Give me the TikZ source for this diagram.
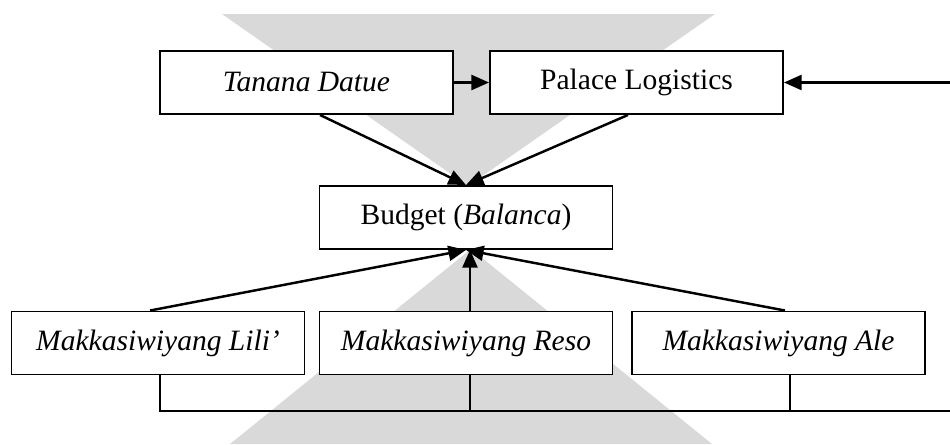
\documentclass[tikz,border=0pt]{standalone}
\usepackage{fontspec}
\setmainfont{Liberation Serif}
\usetikzlibrary{arrows.meta}

\definecolor{wmgray}{HTML}{D9D9D9}

\begin{document}
\begin{tikzpicture}[
    box/.style={draw, line width=1.1pt, fill=white, minimum width=5.86cm,
      minimum height=1.26cm, inner sep=0pt, font=\fontsize{16.8}{20}\selectfont},
    link/.style={line width=1.4pt, -{Triangle[length=10pt,width=8.5pt]}},
    wire/.style={line width=1.3pt}
  ]
  \useasboundingbox (0,0) rectangle (19,8.88);

  % background watermark
  \fill[wmgray] (4.44,8.6) -- (14.3,8.6) -- (9.36,5.16) -- cycle;
  \fill[wmgray] (9.42,3.9) -- (14.24,0) -- (4.6,0) -- cycle;

  \node [box] (datue) at (6.13,7.23) {\textit{Tanana Datue}};
  \node [box] (palace) at (12.73,7.23) {Palace Logistics};
  \node [box] (budget) at (9.32,4.53) {Budget (\textit{Balanca})};
  \node [box] (lili) at (3.16,2.02) {\textit{Makkasiwiyang Lili'}};
  \node [box] (reso) at (9.32,2.02) {\textit{Makkasiwiyang Reso}};
  \node [box] (ale) at (15.57,2.02) {\textit{Makkasiwiyang Ale}};

  \coordinate (outtop) at (19,7.23);
  \coordinate (lilidown) at (3.2,0.66);
  \coordinate (resodown) at (9.4,0.66);
  \coordinate (aledown) at (15.8,0.66);
  \coordinate (outbottom) at (19,0.66);

  \draw [link] (datue) -- (palace);
  \draw [link] (outtop) -- (palace);
  \draw [link] ([xshift=0.27cm]datue.south) -- (budget.north);
  \draw [link] ([xshift=-0.17cm]palace.south) -- (budget.north);
  \draw [link] ([xshift=-0.16cm]lili.north) -- (budget.south);
  \draw [link] ([xshift=0.08cm]reso.north) -- ([xshift=0.08cm]budget.south);
  \draw [link] ([xshift=0.13cm]ale.north) -- (budget.south);

  \draw [wire] (lili.south -| lilidown) -- (lilidown) -- (outbottom);
  \draw [wire] (reso.south -| resodown) -- (resodown);
  \draw [line width=0.8pt] (ale.south -| aledown) -- (aledown);
\end{tikzpicture}
\end{document}
